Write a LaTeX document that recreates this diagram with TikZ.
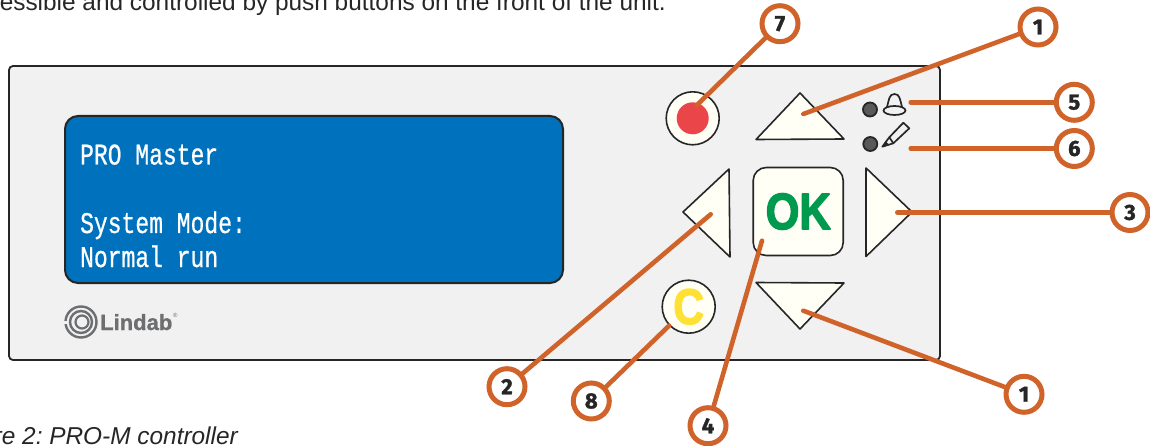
\documentclass[tikz,border=0pt]{standalone}
\usepackage{fontspec}
\setmainfont{Liberation Sans}
\newfontfamily\calloutfont{Fira Sans}[BoldFeatures={FakeBold=1.5}]
\newfontfamily\keyfont{Liberation Sans}[BoldFeatures={FakeBold=3}]
\newfontfamily\logofont{Liberation Sans}[BoldFeatures={FakeBold=1}]
\newfontfamily\screenfont{Liberation Mono}[FakeBold=0.8]
\colorlet{ink_set}{black!85!white}
\definecolor{leader_set}{HTML}{D0632A}
\definecolor{panel_set}{HTML}{F1F1F1}
\definecolor{cream_set}{HTML}{FFFFF6}
\definecolor{screen_set}{HTML}{0071BC}
\definecolor{red_set}{HTML}{EA4549}
\definecolor{yellow_set}{HTML}{FFE135}
\definecolor{green_set}{HTML}{009A4E}
\definecolor{logo_set}{HTML}{6D6E70}
\tikzset{
  keyshape/.style={draw=ink_set, line width=1.6pt, fill=cream_set, line join=round},
  roundkey/.style={keyshape, circle, inner sep=0pt, minimum size=53pt},
  callout/.style={circle, draw=leader_set, line width=5pt, fill=white, inner sep=0pt,
    minimum size=36pt, text=ink_set, font=\calloutfont\bfseries\fontsize{22}{22}\selectfont},
  leader/.style={draw=leader_set, line width=4.6pt, line cap=round},
  screentext/.style={anchor=base west, inner sep=0pt, text=white, xscale=0.767,
    font=\screenfont\fontsize{30}{30}\selectfont},
  ledlamp/.style={circle, draw=ink_set, line width=1.8pt, fill=black!65!white, inner sep=0pt, minimum size=14pt}
}

\begin{document}
\frenchspacing
\begin{tikzpicture}[x=1pt, y=-1pt]
\useasboundingbox (0,0) rectangle (1150,446);

% Page text around the figure
\node[anchor=base east, inner sep=0pt, text=ink_set, font=\fontsize{24.4}{24.4}\selectfont] (topline)
  at (666,11) {essible and controlled by push buttons on the front of the unit.};
\node[anchor=base east, inner sep=0pt, text=ink_set, font=\itshape\fontsize{24.4}{24.4}\selectfont] (caption)
  at (238,444) {ure 2: PRO-M controller};

% Front panel and display
\draw[draw=ink_set, line width=1.8pt, fill=panel_set, rounded corners=4pt] (9,66) rectangle (940,360);
\draw[draw=ink_set, line width=2pt, fill=screen_set, rounded corners=13pt] (65,116) rectangle (563,283);
\node[screentext] (lineone) at (80,164.5) {PRO Master};
\node[screentext] (linetwo) at (80,233) {System Mode:};
\node[screentext] (linethree) at (80,267) {Normal run};

% Logo
\draw[logo_set, line width=2.4pt] (81,322) circle [radius=15.5];
\draw[panel_set, line width=3pt] (63,322) -- (70,322);
\draw[logo_set, line width=2.4pt] (81,322) circle [radius=11];
\draw[logo_set, line width=2.2pt] (82,322) circle [radius=6.5];
\node[anchor=base west, inner sep=0pt, text=logo_set, font=\logofont\bfseries\fontsize{22}{22}\selectfont] (logotext)
  at (100,330) {Lindab};
\node[anchor=base west, inner sep=0pt, text=logo_set, font=\fontsize{6}{6}\selectfont] (logomark)
  at (173,317) {®};

% Push buttons
\node[roundkey] (stopkey) at (692.7,118.3) {};
\fill[red_set] (stopkey) circle [radius=16];
\node[roundkey, text=yellow_set, font=\keyfont\bfseries\fontsize{50}{50}\selectfont] (ckey) at (688.7,306.7) {\scalebox{0.85}[1]{C}};
\node[keyshape, rounded corners=13pt, minimum width=90pt, minimum height=88pt, inner sep=0pt,
  text=green_set, font=\keyfont\bfseries\fontsize{51}{51}\selectfont] (okkey) at (798.2,211.5) {\scalebox{0.85}[1]{OK}};
\draw[keyshape] (800,93) -- (844,139) -- (756,139.5) -- cycle;
\draw[keyshape] (756,282.5) -- (844,283) -- (800,329) -- cycle;
\draw[keyshape] (683,212) -- (729,169) -- (730,257) -- cycle;
\draw[keyshape] (866,168) -- (912,212) -- (866,256.5) -- cycle;

% Lamps with their symbols
\node[ledlamp] (alarmled) at (870,109.5) {};
\node[ledlamp] (editled) at (870.3,144) {};
\draw[draw=ink_set, line width=1.7pt, fill=panel_set] (887,107) .. controls (889,100) and (889,94) .. (894.5,94) .. controls (900,94) and (900,100) .. (902,107);
\draw[draw=ink_set, line width=1.7pt, fill=panel_set] (894.5,110.5) ellipse [x radius=11, y radius=4.5];
\draw[draw=ink_set, line width=1.7pt, line join=round] (882.3,146.7) -- (889.3,137.3) -- (903.3,122.7) -- (909.3,128.3) -- (893.3,143.3) -- cycle;
\draw[draw=ink_set, line width=1.7pt] (889.3,137.3) -- (893.3,143.3);
\fill[ink_set] (882.3,146.7) -- (885.5,141) -- (888.5,144.2) -- cycle;

% Free ends of the leaders
\coordinate (stopend) at (696.7,105.3);
\coordinate (upend) at (803.3,114);
\coordinate (alarmend) at (910.7,102.3);
\coordinate (editend) at (910.7,148.5);
\coordinate (rightend) at (897.3,212.5);
\coordinate (downend) at (803.3,310.7);
\coordinate (okend) at (762,240.7);
\coordinate (leftend) at (710.7,214.3);

% Numbered callouts
\foreach \name/\cx/\cy/\num in {stop/780/23.7/7, up/1038/27/1, alarm/1074.3/102.3/5, edit/1074.3/148.5/6,
  right/1130/212.5/3, down/1024/394.3/1, ok/708/425.7/4, left/507/386.7/2}{
  \node[callout] (\name call) at (\cx,\cy) {\num};
  \draw[leader] (\name call) -- (\name end);
}
\node[callout] (ccall) at (591.3,401) {8};
\draw[leader] (ccall) -- (ckey);

\end{tikzpicture}
\end{document}
